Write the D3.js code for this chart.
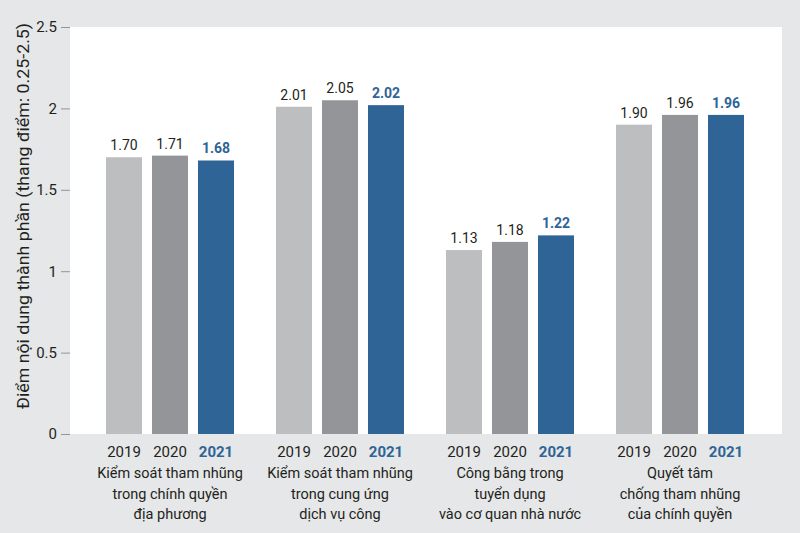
<!DOCTYPE html>
<html><head><meta charset="utf-8">
<script src="https://cdn.jsdelivr.net/npm/d3@7"></script>
<style>
html,body{margin:0;padding:0;background:#e6e7e8;}
svg{display:block;font-family:Roboto, "Open Sans", sans-serif;}
</style></head>
<body>
<svg id="chart" width="800" height="533"></svg>
<script>
const categories = [
  ["Kiểm soát tham nhũng", "trong chính quyền", "địa phương"],
  ["Kiểm soát tham nhũng", "trong cung ứng", "dịch vụ công"],
  ["Công bằng trong", "tuyển dụng", "vào cơ quan nhà nước"],
  ["Quyết tâm", "chống tham nhũng", "của chính quyền"]
];
const years = ["2019", "2020", "2021"];
const values2019 = [1.70, 2.01, 1.13, 1.90];
const values2020 = [1.71, 2.05, 1.18, 1.96];
const values2021 = [1.68, 2.02, 1.22, 1.96];
const yTicks = [0, 0.5, 1, 1.5, 2, 2.5];
const yTickLabels = ["0", "0.5", "1", "1.5", "2", "2.5"];
const yTitle = "Điểm nội dung thành phần (thang điểm: 0.25-2.5)";

const series = [values2019, values2020, values2021];
const colors = ["#bcbec0", "#939598", "#2e6496"];
const labelColors = ["#231f20", "#231f20", "#2e6496"];

const svg = d3.select("#chart");
const W = 800, H = 533;
const panel = {x0: 70, x1: 782, y0: 27, y1: 434};

svg.append("rect").attr("width", W).attr("height", H).attr("fill", "#e6e7e8");
svg.append("rect").attr("x", panel.x0).attr("y", panel.y0)
  .attr("width", panel.x1 - panel.x0).attr("height", panel.y1 - panel.y0).attr("fill", "#ffffff");

const y = d3.scaleLinear().domain([0, 2.5]).range([panel.y1, panel.y0]);
const x0 = d3.scaleBand().domain(d3.range(categories.length)).range([85, 765]).padding(0);
const x1 = d3.scaleBand().domain(years).range([21, 149]).paddingInner(10/46).paddingOuter(0);

// y axis
const yAxis = d3.axisLeft(y).tickValues(yTicks).tickFormat((d, i) => yTickLabels[i]).tickSize(9).tickPadding(4);
const gy = svg.append("g").attr("transform", `translate(${panel.x0},0)`).call(yAxis);
gy.select(".domain").remove();
gy.selectAll(".tick line").attr("stroke", "#939598").attr("stroke-width", 1);
gy.selectAll(".tick text").attr("font-size", 15).attr("fill", "#231f20").attr("font-family", "Roboto, sans-serif");

// y title
svg.append("text").attr("transform", "translate(29,216) rotate(-90)")
  .attr("text-anchor", "middle").attr("font-size", 16.5).attr("fill", "#231f20")
  .attr("textLength", 386).attr("lengthAdjust", "spacingAndGlyphs").text(yTitle);

// bars
const groups = svg.append("g").selectAll("g").data(categories).join("g")
  .attr("transform", (d, i) => `translate(${x0(i)},0)`);

years.forEach((yr, s) => {
  groups.append("rect")
    .attr("x", x1(yr)).attr("width", x1.bandwidth())
    .attr("y", (d, i) => y(series[s][i]))
    .attr("height", (d, i) => y(0) - y(series[s][i]))
    .attr("fill", colors[s]);
  groups.append("text")
    .attr("x", x1(yr) + x1.bandwidth() / 2)
    .attr("y", (d, i) => y(series[s][i]) - 7)
    .attr("text-anchor", "middle").attr("font-size", 14)
    .attr("font-weight", s === 2 ? 700 : 400)
    .attr("fill", labelColors[s])
    .text((d, i) => series[s][i].toFixed(2));
  groups.append("text")
    .attr("x", x1(yr) + x1.bandwidth() / 2)
    .attr("y", 457)
    .attr("text-anchor", "middle").attr("font-size", 15)
    .attr("font-weight", s === 2 ? 700 : 400)
    .attr("fill", labelColors[s])
    .text(yr);
});

groups.each(function(lines) {
  const g = d3.select(this);
  lines.forEach((ln, k) => {
    g.append("text").attr("x", 85).attr("y", 478 + k * 20.5)
      .attr("text-anchor", "middle").attr("font-size", 14.5).attr("fill", "#231f20").text(ln);
  });
});
</script>
</body></html>
